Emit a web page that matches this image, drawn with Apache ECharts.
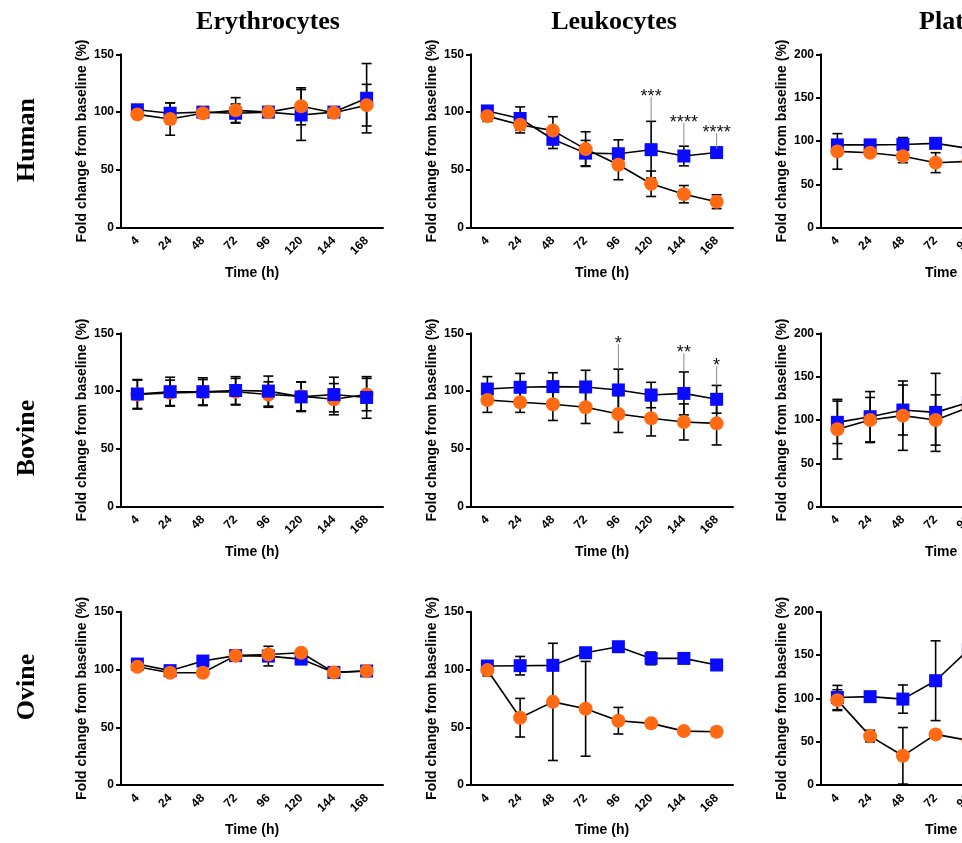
<!DOCTYPE html>
<html>
<head>
<meta charset="utf-8">
<script src="https://cdn.jsdelivr.net/npm/echarts@6/dist/echarts.min.js"></script>
<style>
  html, body { margin: 0; padding: 0; background: #fff; overflow: hidden; width: 962px; height: 843px; }
  #chart { width: 1120px; height: 843px; }
</style>
</head>
<body>
<div id="chart"></div>
<script>
// ---------------- DATA ----------------
const categories = ['4', '24', '48', '72', '96', '120', '144', '168'];
const columnTitles = ['Erythrocytes', 'Leukocytes', 'Platelets'];
const rowTitles = ['Human', 'Bovine', 'Ovine'];
const yTicks150 = [0, 50, 100, 150];
const yTicks200 = [0, 50, 100, 150, 200];

// Human
const humanEryBlue      = [102, 99, 100, 99, 100, 97.5, 100, 112];
const humanEryBlueSD    = [4, 9, 2, 8, 2, 22, 2, 30];
const humanEryOrange    = [98, 94, 99, 101.5, 100, 105, 99.5, 106];
const humanEryOrangeSD  = [3, 14, 2, 11, 2, 16, 2, 18];

const humanLeuBlue      = [101, 94.5, 76.5, 64.5, 64, 67.5, 62, 65];
const humanLeuBlueSD    = [3, 10, 8, 11, 12, 24.5, 8.5, 3];
const humanLeuOrange    = [96.5, 89, 84, 68, 54.5, 38, 29, 22.5];
const humanLeuOrangeSD  = [4.5, 7, 12, 15, 13, 11, 7.5, 6];
const humanLeuStars     = ['', '', '', '', '', '***', '****', '****'];
const humanLeuStarLevel = [null, null, null, null, null, 117.6, 95, 86];

const humanPltBlue      = [95.5, 95.5, 96, 97.3, 91.5, 90, 88, 86];
const humanPltBlueSD    = [5, 4, 8, 4, 5, 5, 5, 5];
const humanPltOrange    = [88, 86.5, 82.5, 75, 76.5, 74, 72, 70];
const humanPltOrangeSD  = [20.5, 4, 7.5, 11.5, 8, 8, 8, 8];

// Bovine
const bovineEryBlue     = [97.5, 99.5, 99.5, 100.5, 100, 95, 97, 94.5];
const bovineEryBlueSD   = [12.5, 12.5, 12, 12, 13, 12.7, 15, 18];
const bovineEryOrange   = [97, 98.5, 99, 99.5, 97, 95.5, 93, 97];
const bovineEryOrangeSD = [12.5, 11, 11, 11.5, 11, 12.5, 13.5, 14];

const bovineLeuBlue     = [101.8, 103.3, 103.9, 103.6, 101, 96.6, 98, 92.9];
const bovineLeuBlueSD   = [10.7, 12, 12, 14.4, 18, 11, 18.6, 12];
const bovineLeuOrange   = [92.3, 90.3, 88.6, 86, 80.2, 76.5, 73.3, 72.1];
const bovineLeuOrangeSD = [10.7, 8.7, 14, 14, 16, 15.3, 15.6, 18.7];
const bovineLeuStars    = ['', '', '', '', '*', '', '**', '*'];
const bovineLeuStarLevel = [null, null, null, null, 145, null, 137, 126];

const bovinePltBlue     = [97.3, 103.8, 111.5, 108.8, 120.3, 118, 115, 112];
const bovinePltBlueSD   = [24.5, 29, 28.8, 45, 20, 20, 20, 20];
const bovinePltOrange   = [89.4, 100, 105, 100, 114.4, 110, 108, 105];
const bovinePltOrangeSD = [34.4, 26, 40, 29, 20, 20, 20, 20];

// Ovine
const ovineEryBlue      = [104.7, 99, 107.3, 112, 111.6, 109, 97.5, 98.7];
const ovineEryBlueSD    = [2, 1.5, 1.5, 1.5, 8.5, 2, 1.5, 1.5];
const ovineEryOrange    = [102.4, 97.2, 97.2, 112, 113, 114.5, 97.5, 98.7];
const ovineEryOrangeSD  = [1.5, 1.5, 1.5, 1.5, 2, 2, 1, 1];

const ovineLeuBlue      = [103, 103.3, 103.6, 114.5, 119.7, 109.6, 109.6, 103.9];
const ovineLeuBlueSD    = [2.5, 8, 2, 2, 2, 5.5, 4, 2];
const ovineLeuOrange    = [99.5, 58.3, 72, 66, 55.7, 53.4, 46.7, 46.2];
const ovineLeuOrangeSD  = [5, 16.7, 50.7, 41, 11.5, 2, 1.5, 3.5];

const ovinePltBlue      = [101, 102, 99.2, 120.4, 156, 140, 130, 125];
const ovinePltBlueSD    = [14, 3, 16.3, 46, 20, 20, 20, 20];
const ovinePltOrange    = [98, 56.5, 33.8, 58.5, 51.6, 50, 48, 45];
const ovinePltOrangeSD  = [12, 6.7, 32.6, 3, 10, 10, 10, 10];

// ---------------- LAYOUT ----------------
const gridLefts = [121, 471, 821];
const gridTops = [54.3, 333.3, 611.7];
const gridW = 262, gridH = 173.4;
const titleX = [268, 614, 966];
const rowLabelY = [140, 438, 687];

const BLUE = '#0a0aff';
const ORANGE = '#ff6a13';
const SANS = '"Liberation Sans", Arial, sans-serif';
const SERIF = '"Liberation Serif", "Times New Roman", serif';

const panels = [
  { b: humanEryBlue, bs: humanEryBlueSD, o: humanEryOrange, os: humanEryOrangeSD, ticks: yTicks150 },
  { b: humanLeuBlue, bs: humanLeuBlueSD, o: humanLeuOrange, os: humanLeuOrangeSD, ticks: yTicks150, stars: humanLeuStars, starLevel: humanLeuStarLevel },
  { b: humanPltBlue, bs: humanPltBlueSD, o: humanPltOrange, os: humanPltOrangeSD, ticks: yTicks200 },
  { b: bovineEryBlue, bs: bovineEryBlueSD, o: bovineEryOrange, os: bovineEryOrangeSD, ticks: yTicks150, blueTop: true },
  { b: bovineLeuBlue, bs: bovineLeuBlueSD, o: bovineLeuOrange, os: bovineLeuOrangeSD, ticks: yTicks150, stars: bovineLeuStars, starLevel: bovineLeuStarLevel },
  { b: bovinePltBlue, bs: bovinePltBlueSD, o: bovinePltOrange, os: bovinePltOrangeSD, ticks: yTicks200 },
  { b: ovineEryBlue, bs: ovineEryBlueSD, o: ovineEryOrange, os: ovineEryOrangeSD, ticks: yTicks150 },
  { b: ovineLeuBlue, bs: ovineLeuBlueSD, o: ovineLeuOrange, os: ovineLeuOrangeSD, ticks: yTicks150 },
  { b: ovinePltBlue, bs: ovinePltBlueSD, o: ovinePltOrange, os: ovinePltOrangeSD, ticks: yTicks200 }
];

function errorRender(params, api) {
  const idx = api.value(0), v = api.value(1), sd = api.value(2);
  const top = api.coord([idx, v + sd]);
  const bot = api.coord([idx, v - sd]);
  const cx = top[0], hw = 5;
  const st = { stroke: '#000', lineWidth: 1.6 };
  return {
    type: 'group',
    children: [
      { type: 'line', shape: { x1: cx, y1: top[1], x2: cx, y2: bot[1] }, style: st },
      { type: 'line', shape: { x1: cx - hw, y1: top[1], x2: cx + hw, y2: top[1] }, style: st },
      { type: 'line', shape: { x1: cx - hw, y1: bot[1], x2: cx + hw, y2: bot[1] }, style: st }
    ]
  };
}

function starRender(params, api, texts) {
  const idx = api.value(0), level = api.value(1), lineEnd = api.value(2);
  const p = api.coord([idx, level]);
  const e = api.coord([idx, lineEnd]);
  const text = texts[params.dataIndex];
  return {
    type: 'group',
    children: [
      { type: 'line', shape: { x1: p[0], y1: p[1] + 5, x2: p[0], y2: e[1] }, style: { stroke: '#888', lineWidth: 1 } },
      { type: 'text', x: p[0], y: p[1] + 5, style: { text: text, fill: '#111', font: '18px ' + SANS, align: 'center', verticalAlign: 'middle', textAlign: 'center', textVerticalAlign: 'middle' } }
    ]
  };
}

const grid = [], xAxis = [], yAxis = [], series = [];
panels.forEach((p, i) => {
  const row = Math.floor(i / 3), col = i % 3;
  grid.push({ left: gridLefts[col], top: gridTops[row], width: gridW, height: gridH });
  xAxis.push({
    type: 'category', gridIndex: i, data: categories, boundaryGap: true,
    axisLine: { lineStyle: { color: '#000', width: 2 } },
    axisTick: { alignWithLabel: true, length: 5, lineStyle: { color: '#000', width: 2 } },
    axisLabel: { rotate: 45, interval: 0, margin: 11, color: '#000', fontWeight: 'bold', fontSize: 12, fontFamily: SANS },
    name: 'Time (h)', nameLocation: 'middle', nameGap: 38,
    nameTextStyle: { color: '#000', fontWeight: 'bold', fontSize: 14, fontFamily: SANS }
  });
  const ymax = p.ticks[p.ticks.length - 1];
  yAxis.push({
    type: 'value', gridIndex: i, min: p.ticks[0], max: ymax, interval: p.ticks[1] - p.ticks[0],
    axisLine: { show: true, lineStyle: { color: '#000', width: 2 } },
    axisTick: { show: true, length: 5, lineStyle: { color: '#000', width: 2 } },
    splitLine: { show: false },
    axisLabel: { margin: 7, color: '#000', fontWeight: 'bold', fontSize: 12, fontFamily: SANS },
    name: 'Fold change from baseline (%)', nameLocation: 'middle', nameGap: 32, nameRotate: 90,
    nameTextStyle: { color: '#000', fontWeight: 'bold', fontSize: 14, fontFamily: SANS }
  });
  const errData = (vals, sds) => vals.map((v, k) => [k, v, sds[k]]);
  series.push({ type: 'custom', xAxisIndex: i, yAxisIndex: i, renderItem: errorRender, data: errData(p.b, p.bs), encode: { x: 0, y: 1 }, z: 1, silent: true, clip: false });
  series.push({ type: 'custom', xAxisIndex: i, yAxisIndex: i, renderItem: errorRender, data: errData(p.o, p.os), encode: { x: 0, y: 1 }, z: 1, silent: true, clip: false });
  series.push({
    type: 'line', xAxisIndex: i, yAxisIndex: i, data: p.b, symbol: 'rect', symbolSize: 13,
    itemStyle: { color: BLUE }, lineStyle: { color: '#000', width: 1.6 }, z: p.blueTop ? 4 : 3, silent: true
  });
  series.push({
    type: 'line', xAxisIndex: i, yAxisIndex: i, data: p.o, symbol: 'circle', symbolSize: 14,
    itemStyle: { color: ORANGE }, lineStyle: { color: '#000', width: 1.6 }, z: p.blueTop ? 3 : 4, silent: true
  });
  if (p.stars) {
    const sData = [], texts = [];
    p.stars.forEach((s, k) => {
      if (s) { sData.push([k, p.starLevel[k], p.b[k] + p.bs[k]]); texts.push(s); }
    });
    series.push({
      type: 'custom', xAxisIndex: i, yAxisIndex: i, data: sData, encode: { x: 0, y: 1 }, z: 5, silent: true, clip: false,
      renderItem: function (params, api) { return starRender(params, api, texts); }
    });
  }
});

const graphic = [];
columnTitles.forEach((t, c) => {
  graphic.push({ type: 'text', x: titleX[c], y: 22, style: { text: t, fill: '#000', font: 'bold 26px ' + SERIF, align: 'center', verticalAlign: 'middle', textAlign: 'center', textVerticalAlign: 'middle' } });
});
rowTitles.forEach((t, r) => {
  graphic.push({ type: 'text', x: 27, y: rowLabelY[r], rotation: Math.PI / 2, style: { text: t, fill: '#000', font: 'bold 26px ' + SERIF, align: 'center', verticalAlign: 'middle', textAlign: 'center', textVerticalAlign: 'middle' } });
});

const chart = echarts.init(document.getElementById('chart'), null, { renderer: 'canvas', width: 1120, height: 843 });
chart.setOption({ animation: false, backgroundColor: '#fff', grid, xAxis, yAxis, series, graphic });
</script>
</body>
</html>
